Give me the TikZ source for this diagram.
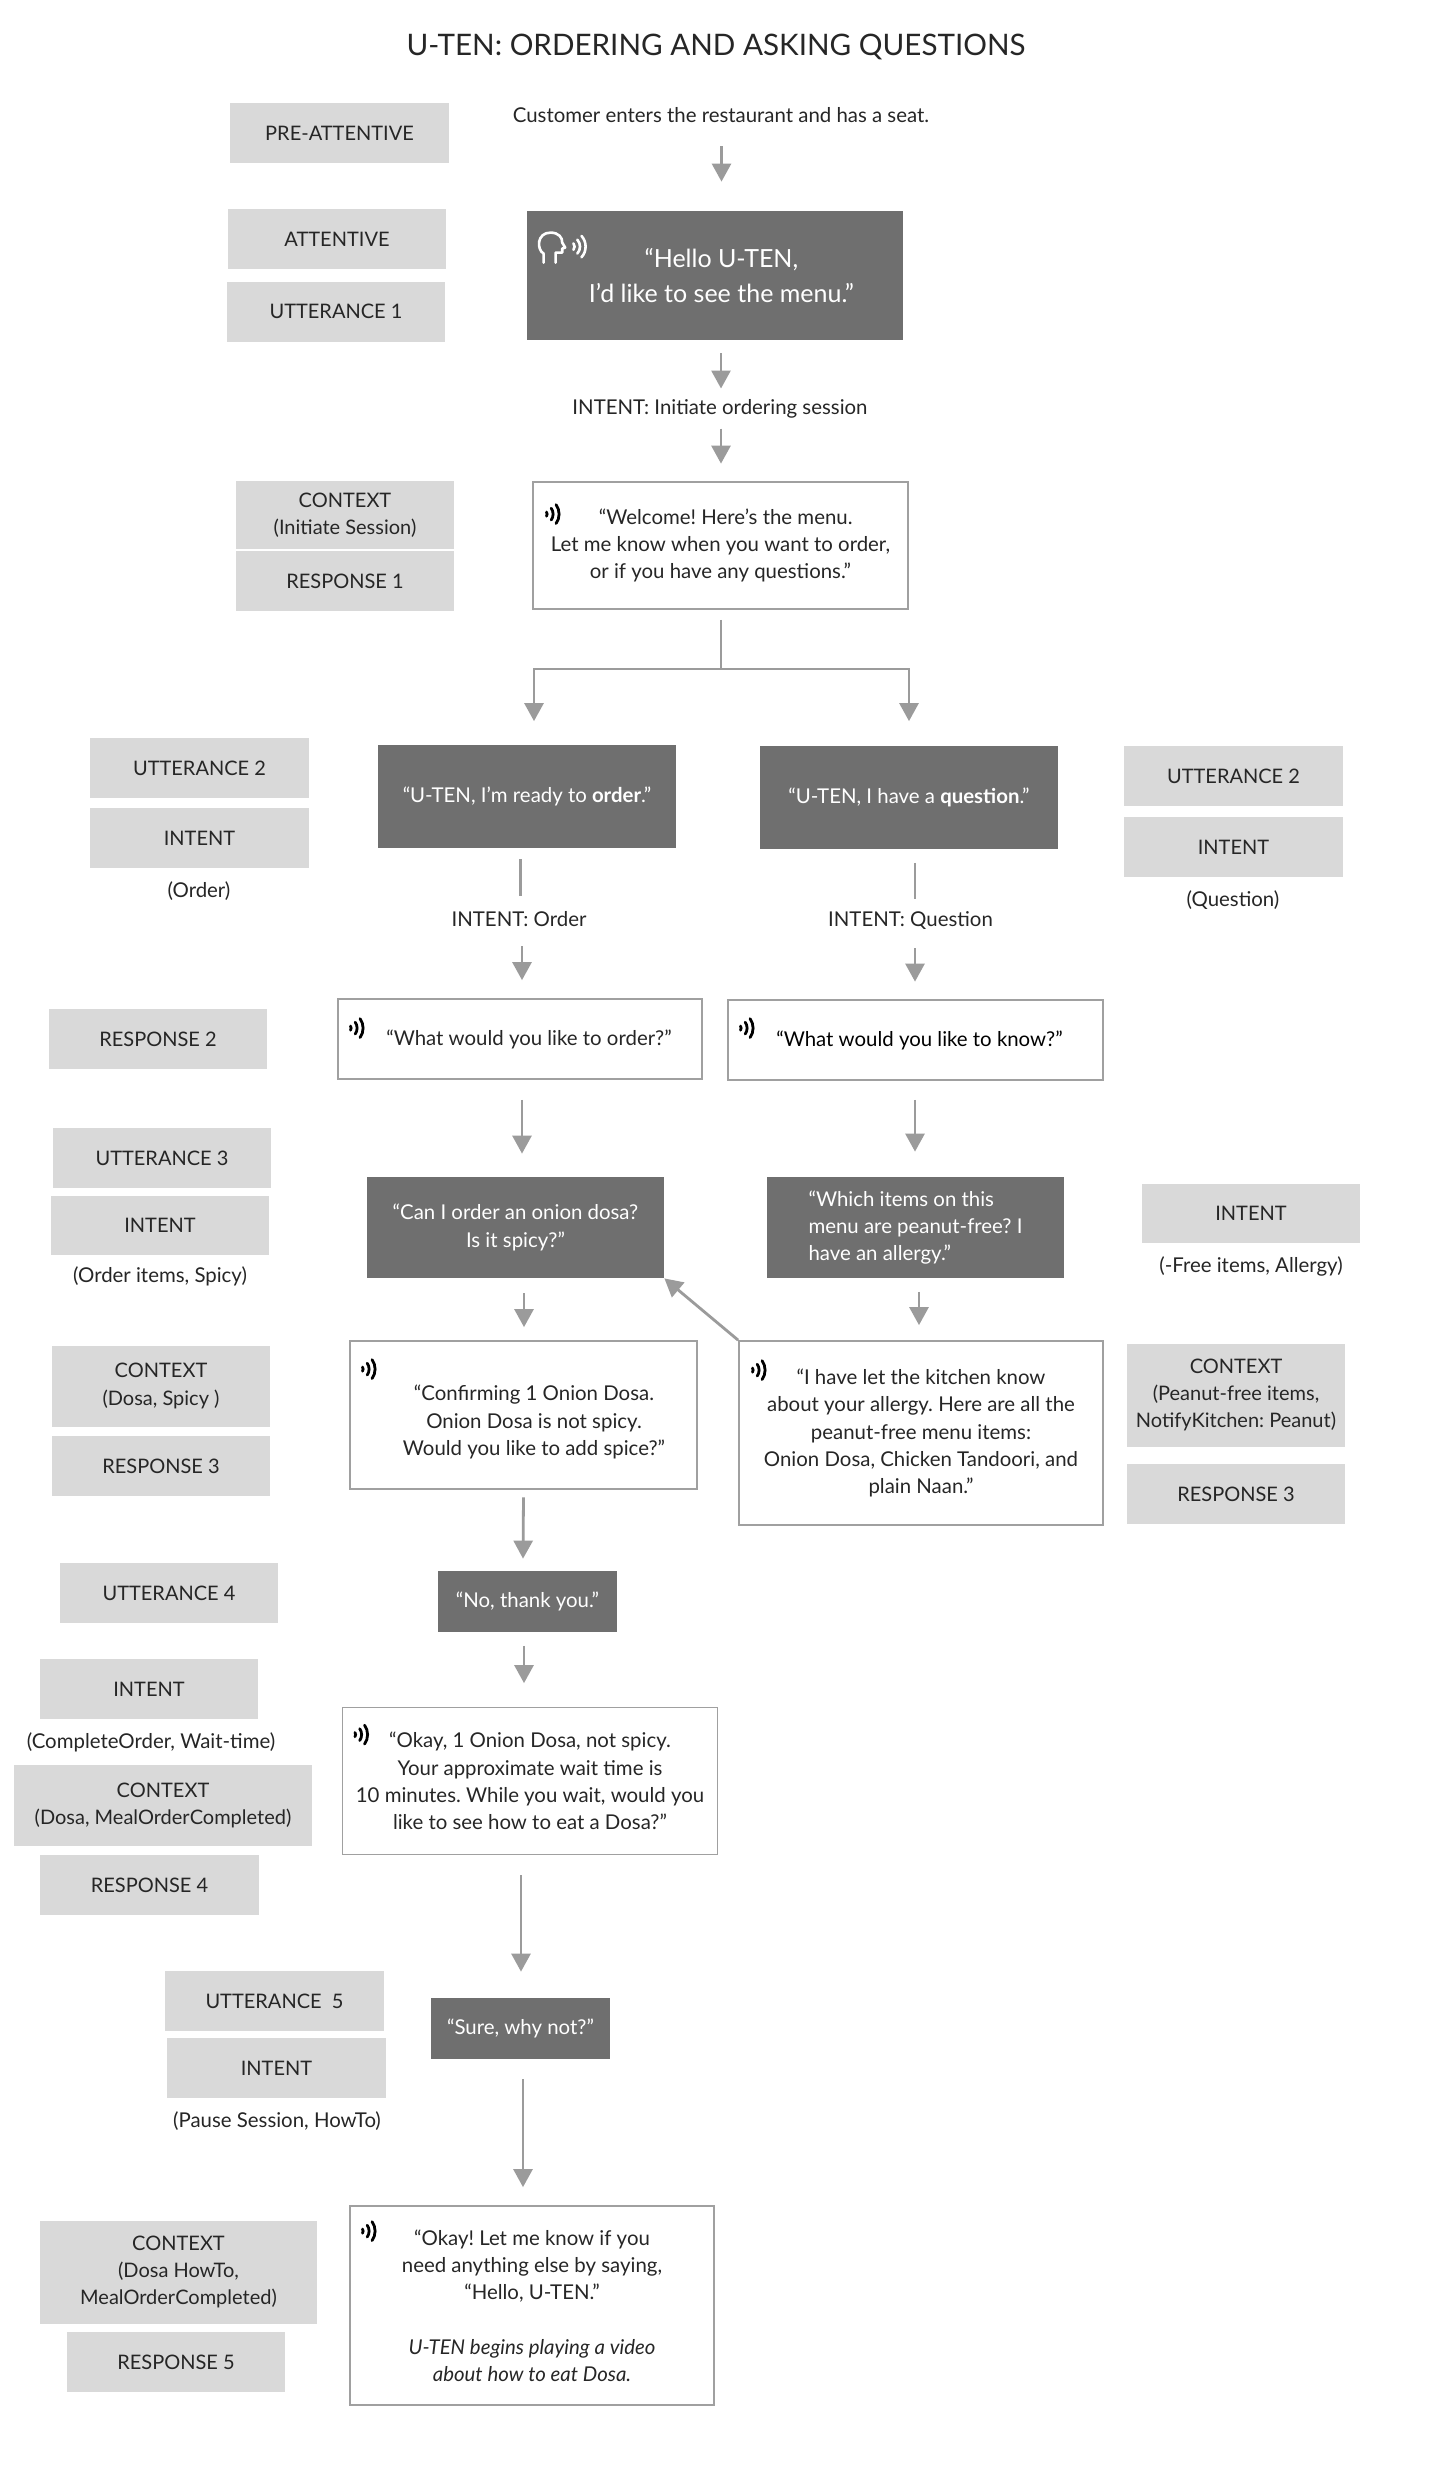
\documentclass[tikz,border=0pt]{standalone}
\usepackage{fontspec}
\setmainfont{Lato}
\usetikzlibrary{arrows.meta,calc}
\definecolor{lblgray}{HTML}{D9D9D9}
\definecolor{darkbox}{HTML}{6F6F6F}
\definecolor{arrowgray}{HTML}{9B9B9B}
\definecolor{bordergray}{HTML}{A0A0A0}
\definecolor{txt}{HTML}{262626}
\frenchspacing
\tikzset{
  sz/.style 2 args={minimum width=#1*0.5pt, minimum height=#2*0.5pt},
  base/.style={inner sep=0pt, align=center, font=\fontsize{10.2}{13.6}\selectfont, text=txt},
  gbox/.style={base, fill=lblgray, font=\fontsize{10}{13.6}\selectfont},
  dbox/.style={base, fill=darkbox, text=white},
  wbox/.style={base, draw=bordergray, line width=0.9pt, fill=white},
  plain/.style={base},
  arr/.style={draw=arrowgray, line width=1.4pt, -{Triangle[length=9pt,width=9.5pt]}},
  ln/.style={draw=arrowgray, line width=1.4pt},
  wave/.pic={
    \draw[line width=1.4pt, line cap=round, black]
      (32:2pt) arc[start angle=32, end angle=-32, radius=2pt]
      (36:5pt) arc[start angle=36, end angle=-36, radius=5pt]
      (36:8pt) arc[start angle=36, end angle=-36, radius=8pt];
  },
  head/.pic={
    \draw[white, line width=1.3pt, line join=round, line cap=round]
      (3.5pt,0pt) -- (3.5pt,4.5pt) .. controls (0pt,6.5pt) and (0pt,15pt) .. (7pt,15pt)
      .. controls (11pt,15pt) and (13pt,12.5pt) .. (12.8pt,10pt)
      -- (14.3pt,7.5pt) -- (12.8pt,7pt) -- (12.8pt,5pt) -- (9.5pt,5pt) -- (9.5pt,0pt);
    \draw[white, line width=1.3pt, line cap=round]
      (16.5pt,8pt) ++(40:2.5pt) arc[start angle=40, end angle=-40, radius=2.5pt]
      (16.5pt,8pt) ++(42:5.2pt) arc[start angle=42, end angle=-42, radius=5.2pt]
      (16.5pt,8pt) ++(42:8pt) arc[start angle=42, end angle=-42, radius=8pt];
  }
}
\begin{document}
\begin{tikzpicture}[x=0.5pt,y=-0.5pt]
\fill[white] (0,0) rectangle (1432,2480);
\useasboundingbox (0,0) rectangle (1432,2480);

% title and plain labels
\node[plain, font=\fontsize{14.8}{17}\selectfont] (title) at (716,47) {U-TEN: ORDERING AND ASKING QUESTIONS};
\node[plain] (cust) at (721,115) {Customer enters the restaurant and has a seat.};
\node[plain] (int1) at (720,409) {INTENT: Initiate ordering session};
\node[plain] (ordlbl) at (199,891) {(Order)};
\node[plain] (queslbl) at (1233,900) {(Question)};
\node[plain] (intord) at (519,919) {INTENT: Order};
\node[plain] (intq) at (910.5,921) {INTENT: Question};
\node[plain] (oislbl) at (160,1276) {(Order items, Spicy)};
\node[plain] (freelbl) at (1251,1266.5) {(-Free items, Allergy)};
\node[plain] (colbl) at (151,1742) {(CompleteOrder, Wait-time)};
\node[plain] (pslbl) at (277,2121) {(Pause Session, HowTo)};

% gray label boxes
\node[gbox, sz={219}{60}] (pa) at (339.5,133) {PRE-ATTENTIVE};
\node[gbox, sz={218}{60}] (att) at (337,239) {ATTENTIVE};
\node[gbox, sz={218}{60}] (utt1) at (336,311.5) {UTTERANCE 1};
\node[gbox, sz={218}{68}] (ctx1) at (345,515) {CONTEXT\\(Initiate Session)};
\node[gbox, sz={218}{60}] (resp1) at (345,581) {RESPONSE 1};
\node[gbox, sz={219}{60}] (utt2l) at (199.5,768) {UTTERANCE 2};
\node[gbox, sz={219}{60}] (int2l) at (199.5,838) {INTENT};
\node[gbox, sz={219}{60}] (utt2r) at (1233.5,776) {UTTERANCE 2};
\node[gbox, sz={219}{60}] (int2r) at (1233.5,847) {INTENT};
\node[gbox, sz={218}{60}] (resp2) at (158,1039) {RESPONSE 2};
\node[gbox, sz={218}{60}] (utt3) at (162,1158) {UTTERANCE 3};
\node[gbox, sz={218}{59}] (int3l) at (160,1225.5) {INTENT};
\node[gbox, sz={218}{59}] (int3r) at (1251,1213.5) {INTENT};
\node[gbox, sz={218}{81}] (ctx3l) at (161,1386) {CONTEXT\\(Dosa, Spicy )};
\node[gbox, sz={218}{60}] (resp3l) at (161,1466) {RESPONSE 3};
\node[gbox, sz={218}{103}] (ctx3r) at (1236,1395) {CONTEXT\\(Peanut-free items,\\NotifyKitchen: Peanut)};
\node[gbox, sz={218}{60}] (resp3r) at (1236,1494) {RESPONSE 3};
\node[gbox, sz={218}{60}] (utt4) at (169,1593) {UTTERANCE 4};
\node[gbox, sz={218}{60}] (int4) at (149,1689) {INTENT};
\node[gbox, sz={298}{81}] (ctx4) at (163,1805.5) {CONTEXT\\(Dosa, MealOrderCompleted)};
\node[gbox, sz={219}{60}] (resp4) at (149.5,1885) {RESPONSE 4};
\node[gbox, sz={219}{60}] (utt5) at (274.5,2001) {UTTERANCE\ \ 5};
\node[gbox, sz={219}{60}] (int5) at (276.5,2068) {INTENT};
\node[gbox, sz={277}{103}] (ctx5) at (178.5,2272) {CONTEXT\\(Dosa HowTo,\\MealOrderCompleted)};
\node[gbox, sz={218}{60}] (resp5) at (176,2362) {RESPONSE 5};

% dark utterance boxes
\node[dbox, sz={376}{129}, font=\fontsize{12.5}{17.5}\selectfont] (d1) at (715,275.5) {\ \ “Hello U-TEN,\\ \ \ I’d like to see the menu.”};
\node[dbox, sz={298}{103}] (o2) at (527,796.5) {“U-TEN, I’m ready to \textbf{order}.”};
\node[dbox, sz={298}{103}] (q2) at (909,797.5) {“U-TEN, I have a \textbf{question}.”};
\node[dbox, sz={297}{101}] (o3) at (515.5,1227.5) {“Can I order an onion dosa?\\Is it spicy?”};
\node[dbox, sz={297}{101}, align=left] (q3) at (915.5,1227.5) {“Which items on this\\menu are peanut-free? I\\have an allergy.”};
\node[dbox, sz={179}{61}] (n4) at (527.5,1601.5) {“No, thank you.”};
\node[dbox, sz={179}{61}] (s5) at (520.5,2028.5) {“Sure, why not?”};

% white response boxes
\node[wbox, sz={375}{127}] (w1) at (720.5,545.5) {\ \ “Welcome! Here’s the menu.\\Let me know when you want to order,\\or if you have any questions.”};
\node[wbox, sz={364}{80}] (r2l) at (520,1039) {\hspace*{9pt}“What would you like to order?”};
\node[wbox, sz={375}{80}, text=black] (r2r) at (915.5,1040) {\hspace*{4pt}“What would you like to know?”};
\node[wbox, sz={347}{148}] (c3l) at (523.5,1415) {};
\node[plain] (c3lt) at ($(c3l)+(10.5,7)$) {“Confirming 1 Onion Dosa.\\Onion Dosa is not spicy.\\Would you like to add spice?”};
\node[wbox, sz={364}{184}] (a3) at (921,1433) {“I have let the kitchen know\\about your allergy. Here are all the\\peanut-free menu items:\\Onion Dosa, Chicken Tandoori, and\\plain Naan.”};
\node[wbox, sz={375}{147}] (ok4) at (530,1781) {“Okay, 1 Onion Dosa, not spicy.\\Your approximate wait time is\\10 minutes. While you wait, would you\\like to see how to eat a Dosa?”};
\node[wbox, sz={364}{199}] (f5) at (532,2305.5) {“Okay! Let me know if you\\need anything else by saying,\\“Hello, U-TEN.”\\[13.6pt]\textit{U-TEN begins playing a video}\\\textit{about how to eat Dosa.}};

% icons
\pic at ($(d1.north west)+(10,52)$) {head};
\pic at ($(w1.north west)+(11,33)$) {wave};
\pic at ($(r2l.north west)+(10,30)$) {wave};
\pic at ($(r2r.north west)+(10,29)$) {wave};
\pic at ($(c3l.north west)+(10,29)$) {wave};
\pic at ($(a3.north west)+(11,30)$) {wave};
\pic at ($(ok4.north west)+(10,28)$) {wave};
\pic at ($(f5.north west)+(10,26)$) {wave};

% main trunk
\draw[arr] ($(cust)+(0.5,31)$) -- ($(d1.north)+(6.5,-29)$);
\draw[arr] ($(d1.south)+(6,13)$) -- ($(int1)+(1,-20.5)$);
\draw[arr] ($(int1)+(1,19.5)$) -- ($(w1.north)+(0.5,-17.5)$);
\coordinate (br) at ($(w1.south)+(0.5,59)$);
\draw[ln] ($(w1.south)+(0.5,10)$) -- (br);
\draw[arr] (br) -| ($(o2.north)+(7,-23.5)$);
\draw[arr] (br) -| ($(q2.north)+(0,-24.5)$);

% order branch
\draw[ln] ($(o2.south)+(-6.5,11)$) -- ($(intord)+(1.5,-23)$);
\draw[arr] ($(intord)+(3,27)$) -- ($(r2l.north)+(2,-18)$);
\draw[arr] ($(r2l.south)+(2,20)$) -- ($(o3.north)+(6.5,-23)$);
\draw[arr] ($(o3.south)+(8.5,15)$) -- ($(c3l.north)+(0.5,-13)$);
\draw[arr] ($(c3l.south)+(0,7.5)$) -- ($(n4.north)+(-4.5,-12)$);
\draw[arr] ($(n4.south)+(-3.5,13.5)$) -- ($(ok4.north)+(-6,-23.5)$);
\draw[arr] ($(ok4.south)+(-9,20)$) -- ($(s5.north)+(0.5,-26)$);
\draw[arr] ($(s5.south)+(2.5,20)$) -- ($(f5.north)+(-9,-18)$);

% question branch
\draw[ln] ($(q2.south)+(6,13.5)$) -- ($(intq)+(4.5,-22)$);
\draw[arr] ($(intq)+(4.5,27)$) -- ($(r2r.north)+(-0.5,-17.5)$);
\draw[arr] ($(r2r.south)+(-0.5,19)$) -- ($(q3.north)+(-0.5,-25)$);
\draw[arr] ($(q3.south)+(3.5,13.5)$) -- ($(a3.north)+(-2,-15)$);
\draw[arr] (a3.north west) -- (o3.south east);
\end{tikzpicture}
\end{document}
